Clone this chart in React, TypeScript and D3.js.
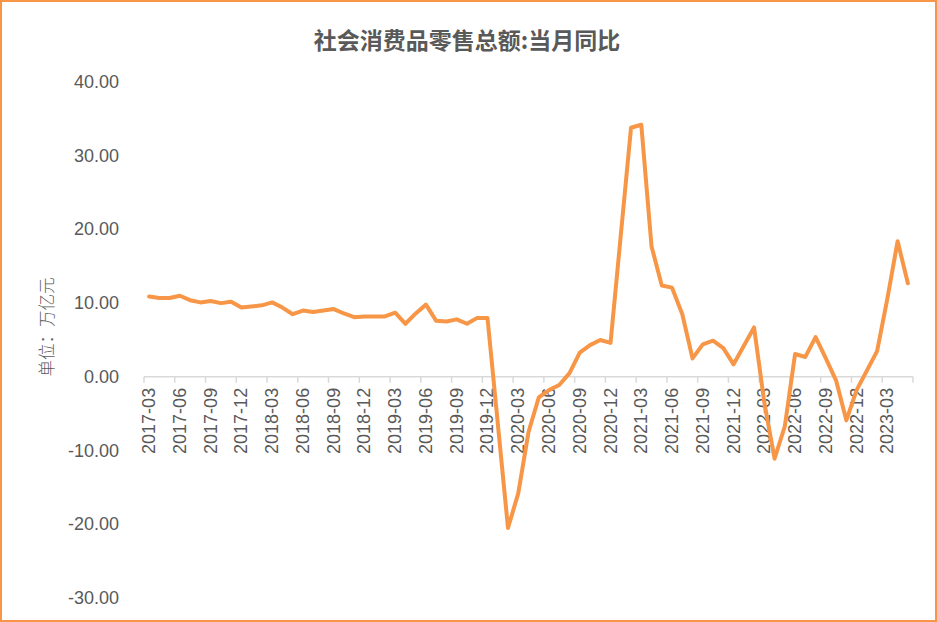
import React from "react";
import * as d3 from "d3";

const W = 937;
const H = 622;

const TITLE = "社会消费品零售总额:当月同比";
const Y_LABEL = "单位：万亿元";

const months: string[] = [];
for (let y = 2017; y <= 2023; y++) {
  for (let m = 1; m <= 12; m++) {
    if (y === 2017 && m < 3) continue;
    if (y === 2023 && m > 5) continue;
    months.push(`${y}-${String(m).padStart(2, "0")}`);
  }
}

const values2017: (number | null)[] = [10.9, 10.7, 10.7, 11.0, 10.4, 10.1, 10.3, 10.0, 10.2, 9.4];
const values2018: (number | null)[] = [null, 9.7, 10.1, 9.4, 8.5, 9.0, 8.8, 9.0, 9.2, 8.6, 8.1, 8.2];
const values2019: (number | null)[] = [null, 8.2, 8.7, 7.2, 8.6, 9.8, 7.6, 7.5, 7.8, 7.2, 8.0, 8.0];
const values2020: (number | null)[] = [null, -20.5, -15.8, -7.5, -2.8, -1.8, -1.1, 0.5, 3.3, 4.3, 5.0, 4.6];
const values2021: (number | null)[] = [null, 33.8, 34.2, 17.7, 12.4, 12.1, 8.5, 2.5, 4.4, 4.9, 3.9, 1.7];
const values2022: (number | null)[] = [null, 6.7, -3.5, -11.1, -6.7, 3.1, 2.7, 5.4, 2.5, -0.5, -5.9, -1.8];
const values2023: (number | null)[] = [null, 3.5, 10.6, 18.4, 12.7];

const values: (number | null)[] = [
  ...values2017, ...values2018, ...values2019, ...values2020,
  ...values2021, ...values2022, ...values2023,
];

const yTicks = [40, 30, 20, 10, 0, -10, -20, -30];

const GRAY = "#595959";
const ORANGE = "#F79646";
const LATIN = "'Liberation Sans', Arial, 'Noto Sans CJK SC', sans-serif";
const CJK = "'Noto Sans CJK SC', 'Liberation Sans', sans-serif";

export default function App() {
  const x = d3.scaleBand<string>().domain(months).range([144, 913]).padding(0);
  const y = d3.scaleLinear().domain([-30, 40]).range([598, 82]);

  const pts = months
    .map((m, i) => ({ m, v: values[i] }))
    .filter((d) => d.v !== null) as { m: string; v: number }[];

  const line = d3
    .line<{ m: string; v: number }>()
    .x((d) => (x(d.m) as number) + x.bandwidth() / 2)
    .y((d) => y(d.v));

  const tickIdx = d3.range(0, months.length + 1, 3);
  const y0 = y(0);

  return (
    <svg
      width={W}
      height={H}
      style={{ position: "absolute", left: 0, top: 0, background: "#fff" }}
    >
      <rect x={0} y={0} width={W} height={H} fill="#fff" />
      <text
        x={467}
        y={39}
        textAnchor="middle"
        dominantBaseline="central"
        fontFamily={CJK}
        fontWeight="bold"
        fontSize={23}
        fill={GRAY}
      >
        {TITLE}
      </text>

      {yTicks.map((t) => (
        <text
          key={t}
          x={119}
          y={y(t)}
          textAnchor="end"
          dominantBaseline="central"
          fontFamily={LATIN}
          fontSize={18}
          fill={GRAY}
        >
          {t.toFixed(2)}
        </text>
      ))}

      <text
        transform={`translate(46, ${327}) rotate(-90)`}
        textAnchor="middle"
        dominantBaseline="central"
        fontFamily={CJK}
        fontSize={16.5}
        fontWeight={300}
        fill={GRAY}
      >
        {Y_LABEL}
      </text>

      <line x1={144} x2={913} y1={y0} y2={y0} stroke="#D9D9D9" strokeWidth={1.5} />
      {tickIdx.map((i) => {
        const xx = i < months.length ? (x(months[i]) as number) : 913;
        return (
          <line key={i} x1={xx} x2={xx} y1={y0} y2={y0 + 6} stroke="#D9D9D9" strokeWidth={1.5} />
        );
      })}
      {tickIdx
        .filter((i) => i < months.length)
        .map((i) => {
          const xx = (x(months[i]) as number) + x.bandwidth() / 2;
          return (
            <text
              key={months[i]}
              transform={`translate(${xx}, ${y0 + 11}) rotate(-90)`}
              textAnchor="end"
              dominantBaseline="central"
              fontFamily={LATIN}
              fontSize={18}
              fill={GRAY}
            >
              {months[i]}
            </text>
          );
        })}

      <path
        d={line(pts) || ""}
        fill="none"
        stroke={ORANGE}
        strokeWidth={4}
        strokeLinejoin="round"
        strokeLinecap="round"
      />

      <rect x={1} y={1} width={W - 2} height={H - 2} fill="none" stroke={ORANGE} strokeWidth={2} />
    </svg>
  );
}
